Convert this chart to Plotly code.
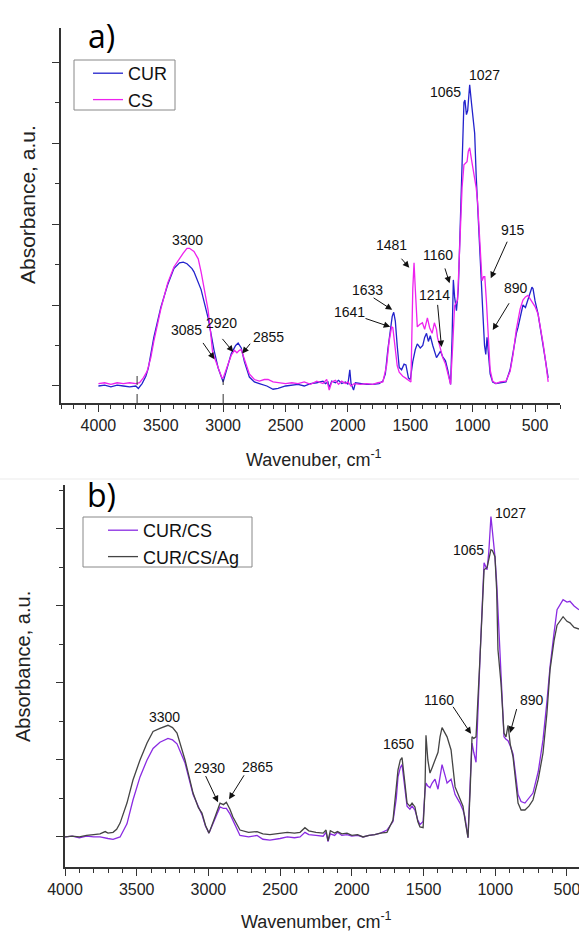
import plotly.graph_objects as go

W, H = 579, 935

# ---------------- Panel a data (wavenumber, cm-1 ; absorbance, a.u.) ----------------
cur_w = [4000, 3950, 3900, 3850, 3800, 3750, 3700, 3680, 3650, 3620, 3600, 3556, 3500, 3445, 3395, 3350,
         3320, 3290, 3250, 3234, 3177, 3121, 3073, 3040, 3000, 2970, 2935, 2900, 2880, 2855, 2830, 2790,
         2750, 2710, 2650, 2600, 2560, 2500, 2450, 2400, 2350, 2300, 2250, 2200, 2180, 2160, 2150, 2130,
         2100, 2075, 2050, 2020, 2000, 1985, 1975, 1955, 1940, 1900, 1850, 1800, 1750, 1720, 1700, 1680,
         1660, 1645, 1633, 1620, 1605, 1589, 1570, 1550, 1535, 1515, 1500, 1480, 1460, 1444, 1420, 1400,
         1385, 1370, 1355, 1340, 1320, 1307, 1290, 1270, 1258, 1240, 1218, 1200, 1186, 1177, 1165, 1155,
         1145, 1130, 1115, 1100, 1085, 1070, 1062, 1050, 1040, 1030, 1024, 1010, 995, 984, 972, 960, 948,
         935, 920, 905, 895, 885, 875, 860, 840, 814, 780, 733, 700, 677, 650, 637, 620, 597, 577, 557,
         540, 525, 516, 500, 476, 455, 435, 415, 395]
cur_a = [0.00, 0.01, -0.01, 0.01, 0.00, -0.01, 0.00, -0.03, 0.03, 0.12, 0.22, 0.60, 0.97, 1.25, 1.45, 1.52,
         1.53, 1.51, 1.45, 1.41, 1.19, 0.84, 0.44, 0.22, 0.05, 0.20, 0.40, 0.50, 0.53, 0.47, 0.30, 0.11,
         0.05, 0.03, 0.00, -0.04, -0.03, 0.00, 0.01, 0.02, 0.00, 0.03, 0.04, 0.06, 0.03, 0.05, -0.02, 0.06,
         0.04, 0.07, 0.03, 0.05, 0.02, 0.20, 0.03, -0.05, 0.04, 0.03, 0.02, 0.02, 0.03, 0.06, 0.15, 0.45,
         0.72, 0.86, 0.91, 0.80, 0.50, 0.23, 0.20, 0.27, 0.26, 0.10, 0.08, 0.30, 0.45, 0.52, 0.47, 0.50,
         0.60, 0.65, 0.55, 0.62, 0.50, 0.43, 0.35, 0.40, 0.43, 0.36, 0.31, 0.20, 0.06, 0.02, 0.60, 1.31,
         1.10, 0.93, 1.20, 1.96, 2.80, 3.50, 3.53, 3.35, 3.40, 3.70, 3.72, 3.50, 3.30, 3.12, 2.60, 2.17, 1.75,
         1.35, 0.95, 0.50, 0.39, 0.60, 0.45, 0.15, 0.05, 0.03, 0.04, 0.05, 0.20, 0.43, 0.65, 0.72, 0.85, 1.00, 0.97, 1.06,
         1.15, 1.22, 1.20, 1.05, 0.89, 0.70, 0.52, 0.30, 0.10]

cs_w = [4000, 3950, 3900, 3850, 3800, 3750, 3700, 3670, 3640, 3610, 3580, 3556, 3500, 3445, 3395, 3350,
        3320, 3290, 3270, 3234, 3200, 3177, 3150, 3121, 3100, 3085, 3065, 3040, 3010, 3000, 2970, 2935,
        2910, 2890, 2870, 2855, 2830, 2790, 2750, 2710, 2670, 2640, 2600, 2560, 2500, 2450, 2400, 2350,
        2300, 2250, 2200, 2170, 2150, 2130, 2100, 2075, 2050, 2020, 2000, 1975, 1950, 1900, 1850, 1800,
        1760, 1720, 1690, 1670, 1650, 1640, 1625, 1605, 1589, 1560, 1540, 1510, 1495, 1480, 1470, 1460,
        1444, 1425, 1403, 1385, 1363, 1345, 1325, 1307, 1290, 1282, 1258, 1240, 1218, 1200, 1186, 1177,
        1160, 1145, 1121, 1100, 1085, 1070, 1060, 1045, 1035, 1024, 1010, 984, 972, 960, 948, 935, 925,
        912, 903, 890, 875, 860, 840, 814, 780, 733, 700, 677, 650, 620, 597, 577, 557, 540, 516, 500,
        476, 455, 435, 415, 395]
cs_a = [0.03, 0.04, 0.02, 0.04, 0.03, 0.04, 0.03, 0.04, 0.10, 0.18, 0.35, 0.55, 0.95, 1.27, 1.47, 1.58,
        1.64, 1.70, 1.70, 1.66, 1.57, 1.41, 1.20, 0.94, 0.65, 0.42, 0.33, 0.22, 0.10, 0.10, 0.22, 0.38,
        0.44, 0.41, 0.44, 0.45, 0.33, 0.15, 0.08, 0.06, 0.08, 0.08, 0.05, 0.04, 0.03, 0.04, 0.03, 0.05,
        0.02, 0.06, 0.03, 0.08, -0.05, 0.05, 0.07, 0.02, 0.06, 0.03, 0.05, 0.00, 0.03, 0.02, 0.03, 0.02,
        0.04, 0.05, 0.25, 0.55, 0.73, 0.72, 0.50, 0.25, 0.17, 0.12, 0.10, 0.06, 0.05, 1.20, 1.52, 1.20,
        0.73, 0.76, 0.78, 0.70, 0.84, 0.72, 0.65, 0.78, 0.70, 0.60, 0.45, 0.35, 0.27, 0.15, 0.06, 0.02,
        0.50, 0.99, 1.06, 1.96, 2.45, 2.73, 2.75, 2.77, 2.90, 2.94, 2.80, 2.58, 2.45, 2.26, 1.90, 1.47, 1.30,
        1.35, 1.35, 1.05, 0.55, 0.20, 0.06, 0.03, 0.05, 0.06, 0.18, 0.38, 0.70, 0.95, 1.06, 1.10, 1.12, 1.08, 1.02, 0.98,
        0.89, 0.72, 0.52, 0.30, 0.05]

# ---------------- Panel b data ----------------
ag_w = [4000, 3950, 3900, 3850, 3800, 3756, 3720, 3700, 3665, 3640, 3616, 3568, 3526, 3477, 3428, 3386,
        3338, 3300, 3282, 3250, 3219, 3163, 3107, 3070, 3045, 3020, 2996, 2954, 2919, 2895, 2875, 2850,
        2829, 2780, 2720, 2661, 2620, 2571, 2500, 2450, 2400, 2361, 2327, 2300, 2250, 2200, 2180, 2166,
        2150, 2120, 2100, 2070, 2034, 2000, 1960, 1922, 1880, 1840, 1800, 1755, 1713, 1690, 1678, 1662,
        1650, 1630, 1615, 1595, 1580, 1560, 1540, 1525, 1503, 1490, 1483, 1470, 1455, 1440, 1420, 1399,
        1385, 1371, 1336, 1308, 1280, 1246, 1225, 1211, 1190, 1175, 1162, 1150, 1134, 1106, 1078, 1057,
        1045, 1030, 1020, 1002, 990, 981, 960, 953, 939, 925, 911, 895, 876, 841, 820, 793, 765, 737, 700,
        667, 640, 618, 590, 569, 527, 500, 479, 450, 416]
ag_a = [0.00, 0.01, 0.00, 0.02, 0.03, 0.04, 0.07, 0.05, 0.06, 0.10, 0.18, 0.44, 0.74, 1.00, 1.22, 1.37,
        1.41, 1.44, 1.45, 1.42, 1.35, 1.00, 0.57, 0.38, 0.31, 0.15, 0.05, 0.26, 0.44, 0.42, 0.45, 0.36,
        0.26, 0.09, 0.06, 0.07, 0.04, 0.03, 0.05, 0.06, 0.05, 0.06, 0.12, 0.08, 0.06, 0.05, 0.09, -0.05,
        0.08, 0.05, 0.07, 0.04, 0.05, 0.02, 0.03, 0.00, 0.02, 0.03, 0.05, 0.06, 0.22, 0.60, 0.87, 1.00,
        1.03, 0.70, 0.44, 0.40, 0.44, 0.39, 0.20, 0.13, 0.12, 0.60, 1.32, 1.00, 0.83, 0.90, 1.00, 1.10,
        1.30, 1.42, 1.30, 1.13, 0.65, 0.48, 0.40, 0.22, -0.01, 0.60, 1.30, 1.28, 1.30, 2.34, 3.47, 3.50,
        3.60, 3.73, 3.72, 3.64, 3.20, 2.43, 2.00, 1.74, 1.35, 1.30, 1.45, 1.20, 1.04, 0.44, 0.35, 0.35, 0.40, 0.48, 0.75,
        1.09, 1.60, 2.17, 2.55, 2.75, 2.86, 2.80, 2.78, 2.72, 2.70]

curcs_w = [4000, 3950, 3900, 3850, 3800, 3756, 3700, 3665, 3616, 3568, 3526, 3477, 3428, 3386, 3338, 3282,
           3250, 3219, 3163, 3107, 3045, 3020, 2996, 2954, 2919, 2895, 2875, 2850, 2829, 2780, 2720, 2661,
           2620, 2571, 2500, 2450, 2400, 2361, 2327, 2300, 2250, 2200, 2180, 2166, 2150, 2120, 2100, 2070,
           2034, 2000, 1960, 1922, 1880, 1840, 1800, 1755, 1713, 1690, 1678, 1662, 1650, 1630, 1615, 1595,
           1580, 1560, 1540, 1525, 1503, 1490, 1483, 1470, 1455, 1440, 1420, 1399, 1385, 1371, 1350, 1336,
           1308, 1280, 1246, 1225, 1211, 1190, 1175, 1162, 1150, 1134, 1106, 1078, 1057, 1045, 1030, 1020,
           1002, 990, 981, 960, 953, 939, 925, 911, 895, 876, 841, 820, 793, 765, 737, 700, 667, 640, 618,
           590, 569, 527, 500, 479, 450, 416]
curcs_a = [0.00, 0.01, -0.01, 0.01, 0.00, 0.00, -0.02, -0.03, 0.00, 0.17, 0.48, 0.78, 1.00, 1.15, 1.23, 1.28,
           1.26, 1.21, 0.96, 0.55, 0.29, 0.14, 0.05, 0.24, 0.39, 0.37, 0.37, 0.30, 0.22, 0.02, 0.00, 0.02,
           -0.03, -0.04, -0.02, 0.00, -0.01, 0.00, 0.06, 0.03, 0.02, 0.01, 0.06, -0.06, 0.04, 0.02, 0.06, 0.02,
           0.03, 0.01, 0.02, 0.00, 0.02, 0.03, 0.05, 0.09, 0.20, 0.50, 0.78, 0.90, 0.94, 0.65, 0.40, 0.36,
           0.40, 0.35, 0.22, 0.16, 0.20, 0.60, 0.70, 0.66, 0.64, 0.70, 0.75, 0.62, 0.80, 0.94, 0.80, 0.70,
           0.75, 0.55, 0.44, 0.35, 0.26, -0.01, 0.70, 1.22, 1.10, 0.97, 2.34, 3.56, 3.47, 3.70, 4.16, 4.00,
           3.64, 3.30, 2.95, 2.10, 1.78, 1.30, 1.27, 1.25, 1.18, 1.08, 0.55, 0.46, 0.44, 0.50, 0.57, 0.85, 1.26, 1.75, 2.21,
           2.65, 2.95, 3.08, 3.05, 3.06, 3.00, 2.95]

# ---------------- peak labels: (text, text_x, text_y, tip_x, tip_y, tail_x, tail_y) ----------------
labels_a = [
    ("3300", 3290, 1.80, None, None, None, None),
    ("3085", 3298, 0.69, 3070, 0.33, 3170, 0.55),
    ("2920", 3016, 0.78, 2919, 0.42, 3016, 0.60),
    ("2855", 2637, 0.60, 2847, 0.40, 2774, 0.54),
    ("1641", 1984, 0.91, 1661, 0.73, 1871, 0.84),
    ("1633", 1847, 1.19, 1645, 0.94, 1806, 1.10),
    ("1481", 1653, 1.74, 1508, 1.46, 1581, 1.59),
    ("1214", 1306, 1.12, 1250, 0.48, 1282, 1.02),
    ("1160", 1282, 1.62, 1185, 1.27, 1226, 1.47),
    ("1065", 1218, 3.63, None, None, None, None),
    ("1027", 903, 3.84, None, None, None, None),
    ("915", 677, 1.93, 855, 1.33, 718, 1.80),
    ("890", 653, 1.21, 839, 0.69, 701, 1.04),
]
labels_b = [
    ("3300", 3303, 1.56, None, None, None, None),
    ("2930", 2989, 0.90, 2933, 0.45, 3024, 0.81),
    ("2865", 2661, 0.91, 2856, 0.49, 2745, 0.82),
    ("1650", 1678, 1.21, None, None, None, None),
    ("1160", 1392, 1.78, 1169, 1.34, 1301, 1.71),
    ("890", 744, 1.78, 897, 1.35, 848, 1.68),
    ("1065", 1190, 3.73, None, None, None, None),
    ("1027", 897, 4.21, None, None, None, None),
]

FONT = "Liberation Sans, Arial, sans-serif"
AX = "#333333"


def px(x):
    return x / W


def py(y):
    return 1 - y / H


fig = go.Figure()
fig.add_trace(go.Scatter(x=cur_w, y=cur_a, mode="lines", name="CUR",
                         line=dict(color="#2222CC", width=1.3), xaxis="x", yaxis="y", legend="legend"))
fig.add_trace(go.Scatter(x=cs_w, y=cs_a, mode="lines", name="CS",
                         line=dict(color="#EE22EE", width=1.3), xaxis="x", yaxis="y", legend="legend"))
fig.add_trace(go.Scatter(x=curcs_w, y=curcs_a, mode="lines", name="CUR/CS",
                         line=dict(color="#8A2BE2", width=1.3), xaxis="x2", yaxis="y2", legend="legend2"))
fig.add_trace(go.Scatter(x=ag_w, y=ag_a, mode="lines", name="CUR/CS/Ag",
                         line=dict(color="#444444", width=1.3), xaxis="x2", yaxis="y2", legend="legend2"))

xcommon = dict(showline=True, linecolor=AX, linewidth=1.6, ticks="outside", ticklen=7, tickwidth=1.4,
               tickcolor=AX, dtick=500, tick0=0, showgrid=False, zeroline=False, automargin=False,
               ticklabeloverflow="allow",
               tickfont=dict(family=FONT, size=16, color="#222"),
               minor=dict(dtick=100, ticks="outside", ticklen=4, tickwidth=1.2, tickcolor=AX, showgrid=False))
ycommon = dict(showline=True, linecolor=AX, linewidth=1.6, ticks="outside", ticklen=7, tickwidth=1.4,
               tickcolor=AX, dtick=1, tick0=0, showgrid=False, zeroline=False, showticklabels=False,
               automargin=False,
               minor=dict(dtick=0.5, ticks="outside", ticklen=4, tickwidth=1.2, tickcolor=AX, showgrid=False))

annotations = []


def add_labels(labels, xr, yr):
    for t, tx, ty, hx, hy, sx, sy in labels:
        annotations.append(dict(text=t, x=tx, y=ty, xref=xr, yref=yr, showarrow=False,
                                xanchor="center", yanchor="middle",
                                font=dict(family=FONT, size=14, color="#111")))
        if hx is not None:
            annotations.append(dict(text="", x=hx, y=hy, ax=sx, ay=sy, xref=xr, yref=yr,
                                    axref=xr, ayref=yr, showarrow=True, arrowhead=2, arrowsize=1.3,
                                    arrowwidth=1, arrowcolor="#111", standoff=0, startstandoff=0))


add_labels(labels_a, "x", "y")
add_labels(labels_b, "x2", "y2")

# panel letters and axis titles
annotations += [
    dict(text="a)", x=px(102), y=py(36), xref="paper", yref="paper", showarrow=False,
         xanchor="center", yanchor="middle",
         font=dict(family="Open Sans, sans-serif", size=32, color="#000")),
    dict(text="b)", x=px(101), y=py(494), xref="paper", yref="paper", showarrow=False,
         xanchor="center", yanchor="middle",
         font=dict(family="Open Sans, sans-serif", size=32, color="#000")),
    dict(text="Absorbance, a.u.", x=px(27), y=py(205), xref="paper", yref="paper", showarrow=False,
         xanchor="center", yanchor="middle",
         textangle=-90, font=dict(family=FONT, size=21, color="#222")),
    dict(text="Absorbance, a.u.", x=px(23), y=py(667), xref="paper", yref="paper", showarrow=False,
         xanchor="center", yanchor="middle",
         textangle=-90, font=dict(family=FONT, size=20, color="#222")),
    dict(text="Wavenuber, cm<sup>-1</sup>", x=px(314), y=py(458), xref="paper", yref="paper",
         xanchor="center", yanchor="middle",
         showarrow=False, font=dict(family=FONT, size=18, color="#222")),
    dict(text="Wavenumber, cm<sup>-1</sup>", x=px(316), y=py(920), xref="paper", yref="paper",
         xanchor="center", yanchor="middle",
         showarrow=False, font=dict(family=FONT, size=18, color="#222")),
]

shapes = [
    dict(type="line", xref="x", yref="y", x0=3690, x1=3690, y0=-0.21, y1=0.19,
         line=dict(color="#333", width=1, dash="dash")),
    dict(type="line", xref="x", yref="y", x0=3000, x1=3000, y0=-0.21, y1=0.08,
         line=dict(color="#333", width=1, dash="dash")),
    dict(type="line", xref="paper", yref="paper", x0=0, x1=1, y0=py(479), y1=py(479),
         line=dict(color="#ebebeb", width=1)),
    # legend frames
    dict(type="rect", xref="paper", yref="paper", x0=px(74), x1=px(175), y0=py(110), y1=py(60),
         line=dict(color="#888", width=1), fillcolor="rgba(0,0,0,0)"),
    dict(type="rect", xref="paper", yref="paper", x0=px(83), x1=px(252), y0=py(567), y1=py(517),
         line=dict(color="#888", width=1), fillcolor="rgba(0,0,0,0)"),
]

fig.update_layout(
    template="none",
    width=W, height=H, margin=dict(l=0, r=0, t=0, b=0, pad=0, autoexpand=False),
    paper_bgcolor="white", plot_bgcolor="white",
    xaxis=dict(domain=[px(61), px(560)], range=[4300, 300], anchor="y", **xcommon),
    yaxis=dict(domain=[py(403), py(28)], range=[-0.21, 4.42], anchor="x", **ycommon),
    xaxis2=dict(domain=[px(65), 1.0], range=[4000, 416], anchor="y2", **xcommon),
    yaxis2=dict(domain=[py(867), py(485)], range=[-0.39, 4.57], anchor="x2", **ycommon),
    legend=dict(x=px(88), y=py(55), xanchor="left", yanchor="top", borderwidth=0,
                bgcolor="rgba(0,0,0,0)", font=dict(family=FONT, size=18, color="#111"), tracegroupgap=0,
                itemwidth=30),
    legend2=dict(x=px(103), y=py(512), xanchor="left", yanchor="top", borderwidth=0,
                 bgcolor="rgba(0,0,0,0)", font=dict(family=FONT, size=18, color="#111"), tracegroupgap=0,
                 itemwidth=30),
    annotations=annotations, shapes=shapes, showlegend=True,
)

fig.write_html("out.html", config={"displayModeBar": False},
               post_script="document.body.style.margin='0';document.body.style.overflow='hidden';")
